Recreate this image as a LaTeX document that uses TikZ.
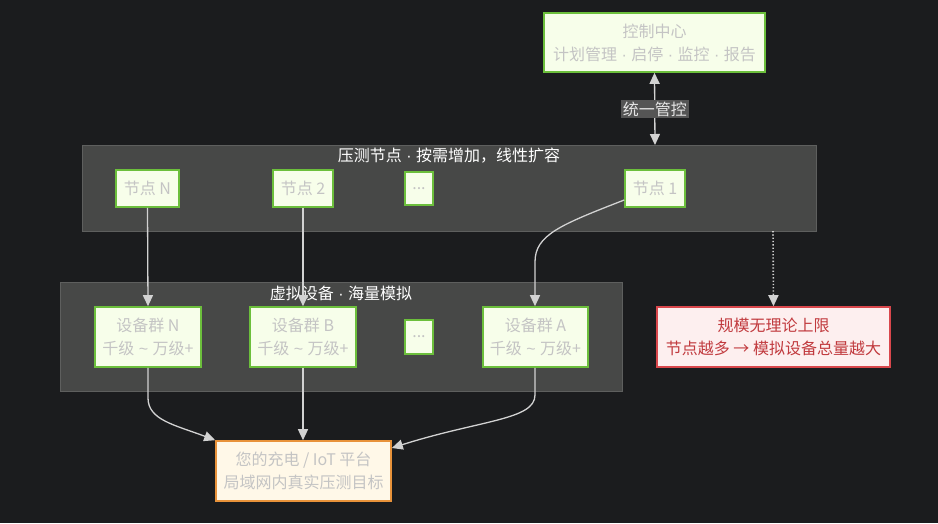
\documentclass[tikz,border=0pt]{standalone}
\usepackage{fontspec}
\setmainfont{Noto Sans CJK SC}
\newfontfamily\latf{Liberation Sans}
\newcommand{\mdot}{{\latf\ ·\ }}
\newcommand{\tld}{{\latf\ \char"007E\ }}
\usetikzlibrary{arrows.meta}
\definecolor{bg}{HTML}{1B1C1E}
\definecolor{clfill}{HTML}{474847}
\definecolor{cldraw}{HTML}{5E5F5E}
\definecolor{gfill}{HTML}{F7FEEA}
\definecolor{gdraw}{HTML}{6CBF3C}
\definecolor{ntext}{HTML}{C4C4C4}
\definecolor{rfill}{HTML}{FDEFEF}
\definecolor{rdraw}{HTML}{D9474C}
\definecolor{rtext}{HTML}{C13A3E}
\definecolor{ofill}{HTML}{FFF8E8}
\definecolor{odraw}{HTML}{E8923A}
\definecolor{edge}{HTML}{D2D2D2}
\definecolor{lblbg}{HTML}{555555}
\tikzset{
  gbox/.style={draw=gdraw, fill=gfill, line width=1.6pt, text=ntext, font=\fontsize{16}{23}\selectfont, align=center, inner sep=0pt},
  rbox/.style={draw=rdraw, fill=rfill, line width=1.6pt, text=rtext, font=\fontsize{16}{23}\selectfont, align=center, inner sep=0pt},
  obox/.style={draw=odraw, fill=ofill, line width=1.6pt, text=ntext, font=\fontsize{16}{23}\selectfont, align=center, inner sep=0pt},
  cluster/.style={draw=cldraw, fill=clfill, line width=0.8pt},
  ctitle/.style={text=white, font=\fontsize{16}{18}\selectfont, inner sep=0pt},
  conn/.style={draw=edge, line width=1.3pt, -{Triangle[length=11pt,width=10pt]}},
}
\begin{document}
\begin{tikzpicture}[x=1pt,y=-1pt]
\fill[bg] (0,0) rectangle (938,523);
\useasboundingbox (0,0) rectangle (938,523);
% clusters
\draw[cluster] (82,145) rectangle (816,231);
\node[ctitle] (t1) at (449,156) {压测节点\mdot 按需增加，线性扩容};
\draw[cluster] (60,282) rectangle (622,391);
\node[ctitle] (t2) at (341,293) {虚拟设备\mdot 海量模拟};
% nodes
\node[gbox, minimum width=221pt, minimum height=59pt] (ctrl) at (654.5,42.5) {控制中心\\计划管理\mdot 启停\mdot 监控\mdot 报告};
\node[gbox, minimum width=63pt, minimum height=37pt] (nN) at (147.5,188.5) {节点 N};
\node[gbox, minimum width=60pt, minimum height=37pt] (n2) at (303,188.5) {节点 2};
\node[gbox, minimum width=28pt, minimum height=33pt] (nd) at (419,188.5) {...};
\node[gbox, minimum width=60pt, minimum height=37pt] (n1) at (655,188.5) {节点 1};
\node[gbox, minimum width=106pt, minimum height=60pt] (dN) at (148,337) {设备群 N\\千级\tld 万级+};
\node[gbox, minimum width=106pt, minimum height=60pt] (dB) at (303,337) {设备群 B\\千级\tld 万级+};
\node[gbox, minimum width=28pt, minimum height=34pt] (dd) at (419,337) {...};
\node[gbox, minimum width=105pt, minimum height=60pt] (dA) at (535.5,337) {设备群 A\\千级\tld 万级+};
\node[rbox, minimum width=233pt, minimum height=60pt] (lim) at (773.5,337) {规模无理论上限\\节点越多 → 模拟设备总量越大};
\node[obox, minimum width=175pt, minimum height=60pt] (plat) at (303.5,471) {您的充电 / IoT 平台\\局域网内真实压测目标};
\coordinate (c1top) at (655,145);
\coordinate (c1bot) at (773,231);
% edges
\draw[draw=edge, line width=1.3pt, {Triangle[length=11pt,width=10pt]}-{Triangle[length=11pt,width=10pt]}] (ctrl.south) -- node[fill=lblbg, text=white!90!black, inner sep=2pt, font=\fontsize{16}{18}\selectfont] (lbl) {统一管控} (c1top);
\draw[conn, dotted, line width=1.6pt] (c1bot) -- (lim.north);
\draw[conn] (nN.south) -- (dN.north);
\draw[conn] (n2.south) -- (dB.north);
\draw[conn] (n1.west |- 0,200) .. controls (560,225) and (535,235) .. (535,262) -- (dA.north -| 535,0);
\draw[conn] (dN.south) -- (148,398) .. controls (148,420) and (175,425) .. (plat.north west);
\draw[conn] (dB.south) -- (plat.north -| 303,0);
\draw[conn] (dA.south -| 535,0) -- (535,395) .. controls (535,420) and (480,420) .. (plat.east |- 0,448);
\end{tikzpicture}
\end{document}
